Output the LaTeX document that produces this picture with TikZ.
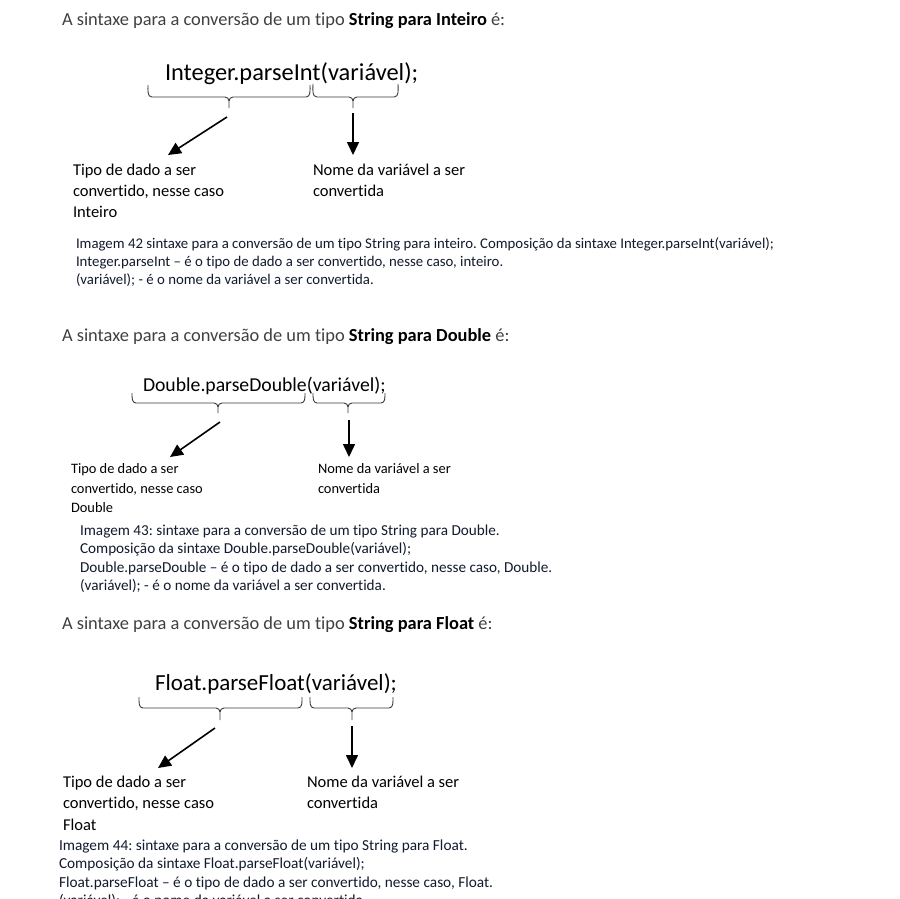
\documentclass[tikz,border=0pt]{standalone}
\usepackage{fontspec}
\setmainfont{Carlito}[Ligatures=NoCommon]
\usetikzlibrary{arrows.meta}
\definecolor{headgray}{HTML}{404040}
\definecolor{capcol}{HTML}{121A2E}
\definecolor{brcol}{HTML}{3A3A3A}
\newcommand{\mybrace}[6]{% x1 x2 xm top h bot
  \draw[brc] (#1,#4) to[out=-90,in=180] (#1+4,#5) -- (#3-4,#5) to[out=0,in=90] (#3,#5+4) -- (#3,#6);
  \draw[brc] (#3,#5+4) to[out=90,in=180] (#3+4,#5) -- (#2-4,#5) to[out=0,in=-90] (#2,#4);
}
\begin{document}
\frenchspacing
\begin{tikzpicture}[x=1pt,y=-1pt,
  txt/.style={inner sep=0pt, outer sep=0pt, anchor=base west},
  head/.style={txt, font=\fontsize{18.4}{21}\selectfont, text=headgray},
  codeA/.style={txt, font=\fontsize{24.4}{28}\selectfont},
  codeB/.style={txt, font=\fontsize{19.7}{24}\selectfont},
  codeC/.style={txt, font=\fontsize{23}{27}\selectfont},
  labA/.style={txt, font=\fontsize{16.5}{19}\selectfont},
  labB/.style={txt, font=\fontsize{14.4}{17}\selectfont},
  labC/.style={txt, font=\fontsize{16.5}{19}\selectfont},
  captA/.style={txt, font=\fontsize{14.8}{18}\selectfont, text=capcol},
  captB/.style={txt, font=\fontsize{15.2}{18}\selectfont, text=capcol},
  captC/.style={txt, font=\fontsize{15.3}{18}\selectfont, text=capcol},
  brc/.style={draw=brcol, line width=0.9pt},
  arr/.style={line width=1.6pt, -{Triangle[length=13pt,width=12pt]}}
]
\useasboundingbox (0,0) rectangle (900,898);
\fill[white] (0,0) rectangle (900,898);
\clip (0,0) rectangle (900,898);

% ---------- Section 1 ----------
\node[head] (h1) at (62,25) {A sintaxe para a conversão de um tipo \textcolor{black}{\textbf{String para Inteiro}} é:};
\node[codeA] (code1) at (165,80) {Integer.parseInt(variável);};
\mybrace{148}{310}{229}{85}{97}{108}
\mybrace{313}{398}{353}{84}{97}{108}
\coordinate (a1s) at (227,117);
\coordinate (a1e) at (168,155);
\coordinate (b1s) at (353,113);
\coordinate (b1e) at (353,155);
\draw[arr] (a1s) -- (a1e);
\draw[arr] (b1s) -- (b1e);
\node[labA] (l1a) at (73,175) {Tipo de dado a ser};
\node[labA] (l1b) at (73,196) {convertido, nesse caso};
\node[labA] (l1c) at (73,217) {Inteiro};
\node[labA] (r1a) at (313,175) {Nome da variável a ser};
\node[labA] (r1b) at (313,196) {convertida};
\node[captA] (c1a) at (76,248) {Imagem 42 sintaxe para a conversão de um tipo String para inteiro. Composição da sintaxe Integer.parseInt(variável);};
\node[captA] (c1b) at (76,266) {Integer.parseInt – é o tipo de dado a ser convertido, nesse caso, inteiro.};
\node[captA] (c1c) at (76,284) {(variável); - é o nome da variável a ser convertida.};

% ---------- Section 2 ----------
\node[head] (h2) at (62,341) {A sintaxe para a conversão de um tipo \textcolor{black}{\textbf{String para Double}} é:};
\node[codeB] (code2) at (143,391) {Double.parseDouble(variável);};
\mybrace{132}{305}{218}{393}{403}{413}
\mybrace{313}{385}{348}{393}{403}{413}
\coordinate (a2s) at (220,422);
\coordinate (a2e) at (170,457);
\coordinate (b2s) at (349,420);
\coordinate (b2e) at (349,457);
\draw[arr] (a2s) -- (a2e);
\draw[arr] (b2s) -- (b2e);
\node[labB] (l2a) at (71,473) {Tipo de dado a ser};
\node[labB] (l2b) at (71,493) {convertido, nesse caso};
\node[labB] (l2c) at (71,512) {Double};
\node[labB] (r2a) at (318,473) {Nome da variável a ser};
\node[labB] (r2b) at (318,493) {convertida};
\node[captB] (c2a) at (80,535) {Imagem 43: sintaxe para a conversão de um tipo String para Double.};
\node[captB] (c2b) at (80,553) {Composição da sintaxe Double.parseDouble(variável);};
\node[captB] (c2c) at (80,572) {Double.parseDouble – é o tipo de dado a ser convertido, nesse caso, Double.};
\node[captB] (c2d) at (80,590) {(variável); - é o nome da variável a ser convertida.};

% ---------- Section 3 ----------
\node[head] (h3) at (62,629) {A sintaxe para a conversão de um tipo \textcolor{black}{\textbf{String para Float}} é:};
\node[codeC] (code3) at (155,690) {Float.parseFloat(variável);};
\mybrace{139}{302}{220}{697}{708}{720}
\mybrace{310}{393}{352}{697}{708}{720}
\coordinate (a3s) at (215,728);
\coordinate (a3e) at (158,768);
\coordinate (b3s) at (352,726);
\coordinate (b3e) at (352,768);
\draw[arr] (a3s) -- (a3e);
\draw[arr] (b3s) -- (b3e);
\node[labC] (l3a) at (63,787) {Tipo de dado a ser};
\node[labC] (l3b) at (63,808) {convertido, nesse caso};
\node[labC] (l3c) at (63,830) {Float};
\node[labC] (r3a) at (307,787) {Nome da variável a ser};
\node[labC] (r3b) at (307,808) {convertida};
\node[captC] (c3a) at (59,850) {Imagem 44: sintaxe para a conversão de um tipo String para Float.};
\node[captC] (c3b) at (59,868) {Composição da sintaxe Float.parseFloat(variável);};
\node[captC] (c3c) at (59,887) {Float.parseFloat – é o tipo de dado a ser convertido, nesse caso, Float.};
\node[captC] (c3d) at (59,905) {(variável); - é o nome da variável a ser convertida.};
\end{tikzpicture}
\end{document}
